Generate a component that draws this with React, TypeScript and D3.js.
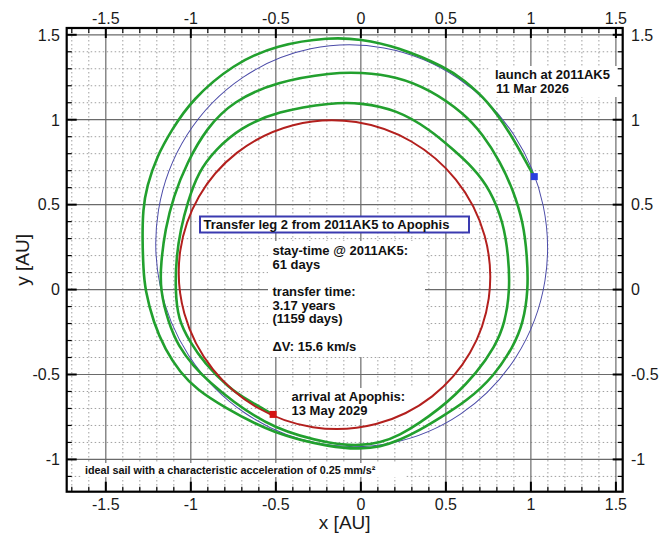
import React from "react";
import * as d3 from "d3";

// ---- data (AU) ----
const xMajor = [-1.5, -1, -0.5, 0, 0.5, 1, 1.5];
const xLabels = ["-1.5", "-1", "-0.5", "0", "0.5", "1", "1.5"];
const yMajor = [-1, -0.5, 0, 0.5, 1, 1.5];
const yLabels = ["-1", "-0.5", "0", "0.5", "1", "1.5"];

// orbit ellipses: centre, semi-major, semi-minor, tilt of major axis (deg)
const orbitAK5 = { cx: -0.054, cy: 0.258, a: 1.183, b: 1.152, tilt: 101.8 };
const orbitApophis = { cx: -0.155, cy: 0.088, a: 0.92, b: 0.905, tilt: 150 };

// sail transfer trajectory (green)
const trajectory: [number, number][] = [
  [1.019, 0.665], [0.996, 0.706], [0.878, 0.924], [0.741, 1.118], [0.602, 1.235], [0.506, 1.306],
  [0.212, 1.431], [-0.004, 1.475], [-0.181, 1.486], [-0.494, 1.441], [-0.751, 1.328],
  [-0.994, 1.118], [-1.112, 0.941], [-1.2, 0.784], [-1.259, 0.608], [-1.282, 0.471],
  [-1.285, 0.294], [-1.279, 0.118], [-1.269, 0], [-1.22, -0.194], [-1.151, -0.353],
  [-1.063, -0.488], [-0.965, -0.588], [-0.81, -0.69], [-0.516, -0.85], [-0.163, -0.931],
  [-0.005, -0.938], [0.113, -0.927], [0.23, -0.886], [0.348, -0.827], [0.465, -0.756],
  [0.623, -0.656], [0.779, -0.515], [0.897, -0.336], [0.955, -0.197], [0.985, 0],
  [0.978, 0.196], [0.956, 0.394], [0.895, 0.588],
  [0.819, 0.753], [0.719, 0.912], [0.602, 1.041], [0.408, 1.176], [0.212, 1.255],
  [-0.004, 1.279], [-0.163, 1.278], [-0.494, 1.225], [-0.751, 1.11], [-0.906, 0.953],
  [-1.024, 0.745], [-1.102, 0.549], [-1.151, 0.353], [-1.176, 0.157], [-1.181, 0],
  [-1.132, -0.196], [-1.073, -0.334], [-0.985, -0.451], [-0.886, -0.549], [-0.769, -0.647],
  [-0.514, -0.824], [-0.163, -0.912], [-0.005, -0.918], [0.113, -0.903], [0.23, -0.856],
  [0.348, -0.785], [0.465, -0.697], [0.544, -0.632], [0.681, -0.491],
  [0.789, -0.336], [0.848, -0.197], [0.877, 0],
  [0.868, 0.196], [0.839, 0.394], [0.761, 0.588], [0.661, 0.718], [0.543, 0.824],
  [0.408, 0.941], [0.212, 1.059], [-0.004, 1.1], [-0.163, 1.102], [-0.494, 1.049],
  [-0.708, 0.953], [-0.855, 0.824], [-0.955, 0.694], [-1.02, 0.512], [-1.06, 0.353],
  [-1.085, 0.196], [-1.092, 0], [-1.075, -0.176], [-1.004, -0.31], [-0.922, -0.43],
  [-0.781, -0.576], [-0.651, -0.66], [-0.516, -0.735],
];

const launchPoint: [number, number] = [1.02, 0.665];
const arrivalPoint: [number, number] = [-0.516, -0.735];

const W = 659;
const H = 535;
const L = 66.7, R = 622.7, T = 28, B = 491.7;
const FONT = "'Liberation Sans', Arial, Helvetica, sans-serif";

export default function App() {
  const x = d3.scaleLinear().domain([-1.73, 1.54]).range([L, R]);
  const y = d3.scaleLinear().domain([-1.19, 1.54]).range([B, T]);
  const kx = (R - L) / 3.27;
  const ky = (B - T) / 2.73;

  const xMinor = d3.range(-17, 16).map((i) => i / 10);
  const yMinor = d3.range(-11, 16).map((i) => i / 10);
  const isMajor = (v: number) => Math.abs(v * 2 - Math.round(v * 2)) < 1e-6;

  const open = d3.line<[number, number]>().x((d) => x(d[0])).y((d) => y(d[1])).curve(d3.curveBasis);

  const green = "#22a02e";
  const red = "#b3201e";
  const blue = "#4b4ba8";

  const ell = (o: { cx: number; cy: number; a: number; b: number; tilt: number }, stroke: string, sw: number) => (
    <ellipse
      cx={x(o.cx)}
      cy={y(o.cy)}
      rx={o.a * kx}
      ry={o.b * ky}
      transform={`rotate(${-o.tilt} ${x(o.cx)} ${y(o.cy)})`}
      fill="none"
      stroke={stroke}
      strokeWidth={sw}
    />
  );

  return (
    <svg width={W} height={H} style={{ position: "absolute", left: 0, top: 0, background: "#fff" }} fontFamily={FONT}>
      <rect x={0} y={0} width={W} height={H} fill="#fff" />
      <defs>
        <clipPath id="plot">
          <rect x={L} y={T} width={R - L} height={B - T} />
        </clipPath>
      </defs>
      {/* minor grid */}
      {xMinor.filter((v) => !isMajor(v)).map((v) => (
        <line key={"xm" + v} x1={x(v)} x2={x(v)} y1={T} y2={B} stroke="#a0a0a0" strokeWidth={1} strokeDasharray="1.5,2.5" />
      ))}
      {yMinor.filter((v) => !isMajor(v)).map((v) => (
        <line key={"ym" + v} y1={y(v)} y2={y(v)} x1={L} x2={R} stroke="#a0a0a0" strokeWidth={1} strokeDasharray="1.5,2.5" />
      ))}
      {/* major grid */}
      {xMajor.map((v) => (
        <line key={"xg" + v} x1={x(v)} x2={x(v)} y1={T} y2={B} stroke="#6a6a6a" strokeWidth={1.2} />
      ))}
      {yMajor.map((v) => (
        <line key={"yg" + v} y1={y(v)} y2={y(v)} x1={L} x2={R} stroke="#6a6a6a" strokeWidth={1.2} />
      ))}

      {/* white boxes behind annotations */}
      <rect x={268} y={241} width={157} height={116} fill="#fff" />
      <rect x={490} y={66} width={131} height={31} fill="#fff" />
      <rect x={289} y={388} width={155} height={31} fill="#fff" />
      <rect x={82} y={463} width={323} height={14} fill="#fff" />

      <g clipPath="url(#plot)">
        {ell(orbitAK5, blue, 1)}
        <path d={open(trajectory) || ""} fill="none" stroke={green} strokeWidth={2.6} />
        {ell(orbitApophis, red, 2)}
        <rect x={x(launchPoint[0]) - 3.5} y={y(launchPoint[1]) - 3.5} width={7} height={7} fill="#2a3ee0" />
        <rect x={x(arrivalPoint[0]) - 3.5} y={y(arrivalPoint[1]) - 3.5} width={7} height={7} fill="#d41414" />
      </g>

      {/* ticks */}
      {xMinor.map((v) => {
        const len = isMajor(v) ? 10 : 5;
        const sw = isMajor(v) ? 2 : 1.2;
        return (
          <g key={"xt" + v}>
            <line x1={x(v)} x2={x(v)} y1={B} y2={B - len} stroke="#000" strokeWidth={sw} />
            <line x1={x(v)} x2={x(v)} y1={T} y2={T + len} stroke="#000" strokeWidth={sw} />
          </g>
        );
      })}
      {yMinor.map((v) => {
        const len = isMajor(v) ? 10 : 5;
        const sw = isMajor(v) ? 2 : 1.2;
        return (
          <g key={"yt" + v}>
            <line x1={L} x2={L + len} y1={y(v)} y2={y(v)} stroke="#000" strokeWidth={sw} />
            <line x1={R} x2={R - len} y1={y(v)} y2={y(v)} stroke="#000" strokeWidth={sw} />
          </g>
        );
      })}
      <rect x={L} y={T} width={R - L} height={B - T} fill="none" stroke="#000" strokeWidth={2.2} />

      {/* tick labels */}
      {xMajor.map((v, i) => (
        <g key={"xl" + v}>
          <text x={x(v)} y={23.5} textAnchor="middle" fontSize={16} fill="#1a1a1a">{xLabels[i]}</text>
          <text x={x(v)} y={509.5} textAnchor="middle" fontSize={16} fill="#1a1a1a">{xLabels[i]}</text>
        </g>
      ))}
      {yMajor.map((v, i) => (
        <g key={"yl" + v}>
          <text x={60} y={y(v) + 5.8} textAnchor="end" fontSize={16} fill="#1a1a1a">{yLabels[i]}</text>
          <text x={631} y={y(v) + 5.8} textAnchor="start" fontSize={16} fill="#1a1a1a">{yLabels[i]}</text>
        </g>
      ))}

      {/* axis titles */}
      <text x={(L + R) / 2} y={529} textAnchor="middle" fontSize={19} fill="#1a1a1a">x [AU]</text>
      <text transform={`translate(29, ${(T + B) / 2}) rotate(-90)`} textAnchor="middle" fontSize={19} fill="#1a1a1a">y [AU]</text>

      {/* annotations */}
      <g fontWeight="bold" fontSize={13} fill="#111">
        <text x={495} y={79}>launch at 2011AK5</text>
        <text x={496} y={93}>11 Mar 2026</text>

        <rect x={200} y={216.5} width={269} height={16} fill="#fff" stroke="#3a3ab0" strokeWidth={2} />
        <text x={203.5} y={229}>Transfer leg 2 from 2011AK5 to Apophis</text>

        <text x={272.5} y={255}>stay-time @ 2011AK5:</text>
        <text x={272.5} y={268.5}>61 days</text>
        <text x={272.5} y={296}>transfer time:</text>
        <text x={272.5} y={309.5}>3.17 years</text>
        <text x={272.5} y={323}>(1159 days)</text>
        <text x={272.5} y={350.5}>ΔV: 15.6 km/s</text>

        <text x={291.5} y={401}>arrival at Apophis:</text>
        <text x={291.5} y={415}>13 May 2029</text>

        <text x={85} y={474} fontSize={10.8}>ideal sail with a characteristic acceleration of 0.25 mm/s²</text>
      </g>
    </svg>
  );
}
